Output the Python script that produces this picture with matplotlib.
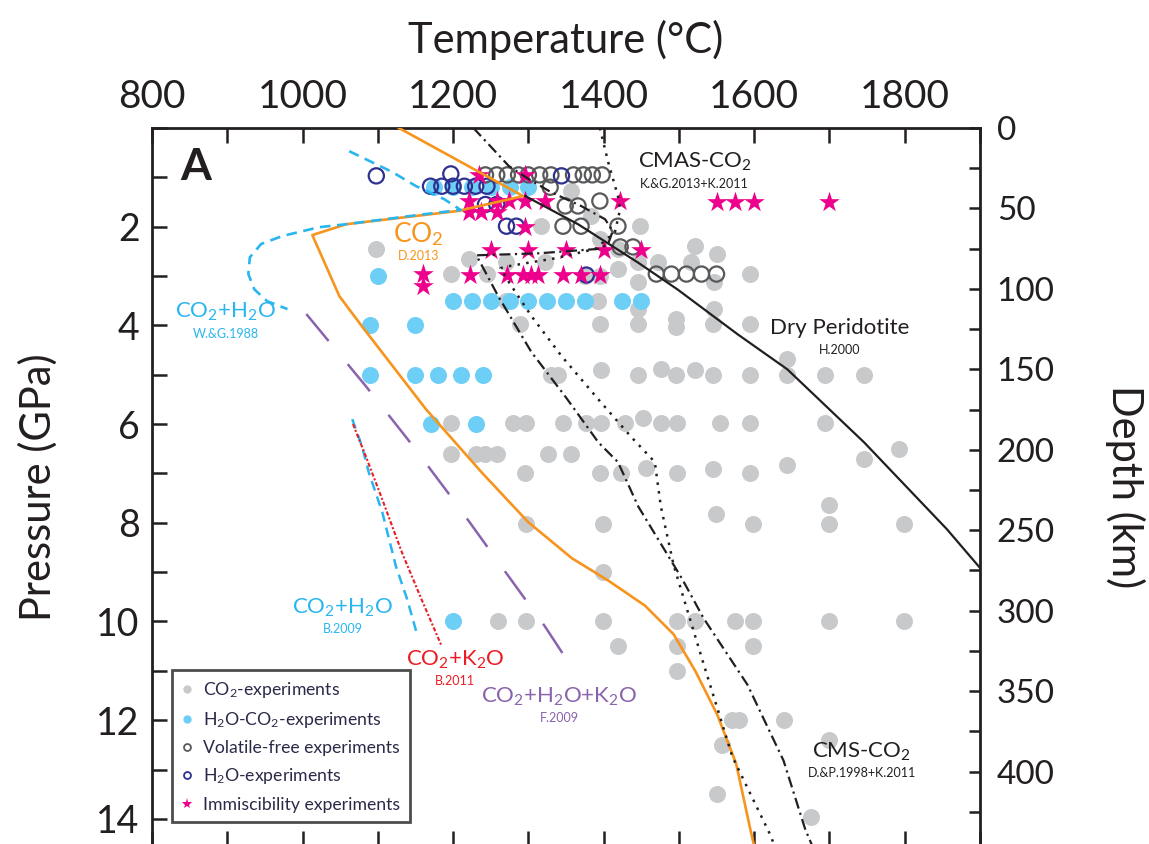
import matplotlib
matplotlib.use('Agg')
import matplotlib.pyplot as plt
from matplotlib.lines import Line2D
from matplotlib.ticker import MultipleLocator, FixedLocator

plt.rcParams['font.family'] = ['Lato', 'DejaVu Sans']
plt.rcParams['mathtext.fontset'] = 'custom'
plt.rcParams['mathtext.rm'] = 'Lato'
plt.rcParams['mathtext.it'] = 'Lato:italic'
plt.rcParams['mathtext.bf'] = 'Lato:bold'

KM_PER_GPA = 30.67
P_MAX = 14.55

# ---- experiments (temperature degC, pressure GPa) ----
co2_T = [1098, 1357, 1383, 1317, 1448, 1419, 1395, 1521, 1551,
         1221, 1270, 1322, 1445, 1472, 1516,
         1197, 1245, 1375, 1395, 1419, 1445, 1547, 1595,
         1270, 1393, 1445, 1547,
         1289, 1395, 1445, 1496, 1496, 1545, 1595,
         1644,
         1330, 1340, 1397, 1445, 1476, 1496, 1522, 1545, 1595, 1644, 1694, 1746,
         1197, 1280, 1297, 1346, 1377, 1397, 1428, 1452, 1476, 1498, 1555, 1595, 1694,
         1197, 1230, 1243, 1258, 1326, 1356,
         1296, 1395, 1423, 1456, 1498, 1545, 1595, 1644, 1746, 1793,
         1297, 1399, 1549, 1599, 1699, 1699, 1799,
         1399,
         1260, 1297, 1399, 1498, 1522, 1574, 1599, 1699, 1799,
         1419, 1498, 1599,
         1498,
         1571, 1580, 1639,
         1699, 1557, 1550, 1676]
co2_P = [2.45, 1.28, 1.79, 1.99, 1.99, 2.45, 2.25, 2.39, 2.56,
         2.66, 2.72, 2.72, 2.72, 2.72, 2.72,
         2.96, 2.96, 3.0, 3.0, 2.86, 3.12, 3.12, 2.96,
         3.5, 3.5, 3.67, 3.67,
         3.98, 3.98, 3.98, 3.88, 4.04, 3.98, 3.98,
         4.69,
         5.0, 5.0, 4.9, 5.0, 4.88, 5.0, 4.9, 5.0, 5.0, 5.0, 5.0, 5.0,
         5.97, 5.97, 5.97, 5.97, 5.97, 5.97, 5.97, 5.87, 5.97, 5.97, 5.97, 5.97, 5.97,
         6.6, 6.6, 6.6, 6.6, 6.6, 6.6,
         7.0, 7.0, 7.0, 6.88, 7.0, 6.92, 7.0, 6.82, 6.71, 6.51,
         8.03, 8.03, 7.83, 8.03, 7.63, 8.03, 8.03,
         9.0,
         10.0, 10.0, 10.0, 10.0, 10.0, 10.0, 10.0, 10.0, 10.0,
         10.5, 10.5, 10.5,
         11.0,
         12.0, 12.0, 12.0,
         12.4, 12.5, 13.5, 13.97]

h2o_co2_T = [1175, 1200, 1225, 1250, 1275, 1300,
             1100,
             1200, 1225, 1250, 1275, 1300, 1325, 1350, 1375, 1425, 1450,
             1090, 1150,
             1090, 1150, 1180, 1210, 1240,
             1170, 1230,
             1200]
h2o_co2_P = [1.2, 1.2, 1.2, 1.2, 1.2, 1.2,
             3.0,
             3.5, 3.5, 3.5, 3.5, 3.5, 3.5, 3.5, 3.5, 3.5, 3.5,
             4.0, 4.0,
             5.0, 5.0, 5.0, 5.0, 5.0,
             6.0, 6.0,
             10.0]

volfree_T = [1243, 1258, 1272, 1287, 1300, 1315, 1330, 1360, 1373, 1385, 1398,
             1329, 1349, 1366, 1395, 1346, 1370, 1419, 1422, 1439,
             1470, 1490, 1510, 1530, 1550]
volfree_P = [0.95, 0.95, 0.95, 0.95, 0.95, 0.95, 0.95, 0.95, 0.95, 0.95, 0.95,
             1.2, 1.58, 1.58, 1.48, 1.99, 1.99, 1.99, 2.41, 2.41,
             2.96, 2.96, 2.96, 2.96, 2.96]

h2o_T = [1098, 1197, 1344, 1170, 1185, 1200, 1215, 1230, 1245, 1243, 1258, 1271, 1284, 1377]
h2o_P = [0.97, 0.93, 0.97, 1.18, 1.18, 1.18, 1.18, 1.18, 1.18, 1.55, 1.55, 1.99, 1.99, 2.98]

immisc_T = [1234, 1296,
            1221, 1258, 1274, 1296, 1322, 1422,
            1221, 1237, 1258,
            1296,
            1250, 1300, 1350, 1400, 1450,
            1223, 1271, 1293, 1303, 1313, 1346, 1370, 1395,
            1160, 1160,
            1550, 1575, 1600, 1700]
immisc_P = [0.96, 0.96,
            1.48, 1.48, 1.48, 1.48, 1.48, 1.48,
            1.7, 1.7, 1.7,
            2.0,
            2.47, 2.47, 2.47, 2.47, 2.47,
            2.98, 2.98, 2.98, 2.98, 2.98, 2.98, 2.98, 2.98,
            2.95, 3.2,
            1.5, 1.5, 1.5, 1.5]

# ---- solidus curves ----
co2_D2013_T = [1128, 1293, 1207, 1058, 1013, 1049, 1079, 1164, 1238, 1300, 1358,
               1406, 1455, 1493, 1522, 1551, 1576, 1595, 1600]
co2_D2013_P = [0.0, 1.38, 1.68, 1.95, 2.17, 3.41, 4.02, 5.70, 6.98, 7.99, 8.72,
               9.17, 9.68, 10.26, 11.01, 11.89, 12.88, 14.22, 14.55]

wg1988_T = [1062, 1119, 1151, 1188, 1210, 1155, 1058, 1022, 973, 945, 930, 928, 936, 953, 980]
wg1988_P = [0.47, 0.89, 1.18, 1.44, 1.66, 1.76, 1.95, 2.01, 2.19, 2.35, 2.62, 2.96, 3.27, 3.51, 3.67]

b2009_T = [1066, 1079, 1088, 1106, 1124, 1139, 1151]
b2009_P = [5.90, 6.45, 6.98, 7.79, 8.88, 9.55, 10.2]

b2011_T = [1067, 1084, 1106, 1132, 1158, 1184]
b2011_P = [6.0, 6.65, 7.53, 8.6, 9.55, 10.47]

f2009_T = [1005, 1084, 1145, 1205, 1264, 1322, 1362]
f2009_P = [3.77, 5.23, 6.41, 7.63, 8.88, 10.1, 11.03]

peridotite_T = [1296, 1366, 1445, 1498, 1578, 1644, 1746, 1856, 1902]
peridotite_P = [1.38, 1.95, 2.72, 3.27, 4.18, 4.89, 6.37, 8.13, 8.95]

cmas_T = [1227, 1274, 1300, 1330, 1370, 1402, 1412, 1406, 1393, 1313, 1231,
          1260, 1304, 1349, 1393, 1419, 1446, 1504, 1533, 1591, 1639, 1668, 1677]
cmas_P = [0.0, 0.77, 1.03, 1.30, 1.58, 1.85, 2.09, 2.35, 2.45, 2.54, 2.58,
          3.41, 4.54, 5.44, 6.37, 6.77, 7.67, 9.13, 9.94, 11.28, 12.82, 14.22, 14.54]

cms_T = [1395, 1406, 1419, 1422, 1415, 1389, 1336, 1304, 1274, 1263, 1274, 1304,
         1344, 1393, 1436, 1468, 1476, 1493, 1533, 1571, 1620, 1627]
cms_P = [0.0, 0.69, 1.38, 1.64, 2.11, 2.45, 2.64, 2.72, 2.80, 2.84, 3.12, 3.81,
         4.62, 5.50, 6.25, 6.77, 7.67, 8.86, 10.87, 12.74, 14.28, 14.54]

GRAY = '#c8c9cb'
CYAN = '#6dcff6'
DKGRAY = '#58595b'
NAVY = '#2e3192'
MAGENTA = '#ec008c'
ORANGE = '#f7941d'
LBLUE = '#29b6ef'
RED = '#ed1c24'
PURPLE = '#8a63ad'
INK = '#231f20'

fig = plt.figure(figsize=(11.49, 8.44), dpi=100)
ax = fig.add_axes([152 / 1149, -2 / 844, 828 / 1149, 718 / 844])

ax.scatter(co2_T, co2_P, s=150, color=GRAY, lw=0, zorder=1)
ax.scatter(h2o_co2_T, h2o_co2_P, s=150, color=CYAN, lw=0, zorder=2)
ax.scatter(volfree_T, volfree_P, s=120, facecolor='none', edgecolor=DKGRAY, lw=1.6, zorder=3)
ax.scatter(h2o_T, h2o_P, s=120, facecolor='none', edgecolor=NAVY, lw=1.6, zorder=3)
ax.scatter(immisc_T, immisc_P, s=240, marker='*', color=MAGENTA, lw=0, zorder=4)

ax.plot(co2_D2013_T, co2_D2013_P, color=ORANGE, lw=1.9, zorder=5)
ax.plot(wg1988_T, wg1988_P, color=LBLUE, lw=1.9, ls=(0, (4, 2.5)), zorder=6)
ax.plot(b2009_T, b2009_P, color=LBLUE, lw=1.8, ls=(0, (4, 2.5)), zorder=5)
ax.plot(b2011_T, b2011_P, color=RED, lw=1.5, ls=(0, (2, 1, 1, 1)), zorder=5)
ax.plot(f2009_T, f2009_P, color=PURPLE, lw=1.8, ls=(0, (14, 12)), zorder=5)
ax.plot(peridotite_T, peridotite_P, color=INK, lw=1.6, zorder=5)
ax.plot(cmas_T, cmas_P, color=INK, lw=1.6, ls=(0, (5, 2, 1, 2)), zorder=5)
ax.plot(cms_T, cms_P, color=INK, lw=1.8, ls=(0, (1, 2.5)), zorder=5)

ax.set_xlim(800, 1900)
ax.set_ylim(P_MAX, 0)

ax.xaxis.tick_top()
ax.xaxis.set_label_position('top')
ax.xaxis.set_major_locator(MultipleLocator(200))
ax.xaxis.set_minor_locator(MultipleLocator(100))
ax.yaxis.set_major_locator(FixedLocator([2, 4, 6, 8, 10, 12, 14]))
ax.yaxis.set_minor_locator(MultipleLocator(1))
ax.tick_params(axis='both', which='both', direction='in', length=11, width=1.8,
               top=True, bottom=True, left=True, right=False, colors=INK)
ax.tick_params(axis='x', which='major', labelsize=28, pad=9)
ax.tick_params(axis='y', which='major', labelsize=27, pad=9)
for sp in ax.spines.values():
    sp.set_linewidth(2)
    sp.set_color(INK)

ax.set_xlabel('Temperature (°C)', fontsize=30, labelpad=19, color=INK)
ax.set_ylabel('Pressure (GPa)', fontsize=30, labelpad=28, color=INK)

ax2 = ax.twinx()
ax2.set_ylim(P_MAX * KM_PER_GPA, 0)
ax2.yaxis.set_major_locator(MultipleLocator(50))
ax2.yaxis.set_minor_locator(MultipleLocator(25))
ax2.tick_params(axis='y', which='both', direction='in', length=8, width=1.8, colors=INK)
ax2.tick_params(axis='y', which='major', labelsize=24, pad=12)
for sp in ax2.spines.values():
    sp.set_visible(False)
ax2.set_ylabel('Depth (km)', fontsize=30, rotation=270, labelpad=65, color=INK)

# ---- annotations ----
ax.text(858, 0.79, 'A', fontsize=32, fontweight='bold', ha='center', va='center', color=INK)

def label(x, y, main, sub, color, size=16, subsize=9):
    ax.text(x, y, main, fontsize=size, ha='center', va='center', color=color, zorder=7)
    ax.text(x, y + 0.44, sub, fontsize=subsize, ha='center', va='center', color=color, zorder=7)

label(1521, 0.69, r'CMAS-CO$_2$', 'K.&G.2013+K.2011', INK)
label(1154, 2.15, r'CO$_2$', 'D.2013', ORANGE, size=19)
label(898, 3.73, r'CO$_2$+H$_2$O', 'W.&G.1988', LBLUE)
label(1713, 4.06, 'Dry Peridotite', 'H.2000', INK)
label(1053, 9.72, r'CO$_2$+H$_2$O', 'B.2009', LBLUE)
label(1203, 10.77, r'CO$_2$+K$_2$O', 'B.2011', RED)
label(1341, 11.52, r'CO$_2$+H$_2$O+K$_2$O', 'F.2009', PURPLE)
label(1743, 12.64, r'CMS-CO$_2$', 'D.&P.1998+K.2011', INK)

handles = [
    Line2D([], [], ls='none', marker='o', ms=6, color=GRAY, mew=0),
    Line2D([], [], ls='none', marker='o', ms=6, color=CYAN, mew=0),
    Line2D([], [], ls='none', marker='o', ms=5, mfc='none', mec=DKGRAY, mew=1.3),
    Line2D([], [], ls='none', marker='o', ms=5, mfc='none', mec=NAVY, mew=1.3),
    Line2D([], [], ls='none', marker='*', ms=8, color=MAGENTA, mew=0),
]
names = [r'CO$_2$-experiments', r'H$_2$O-CO$_2$-experiments', 'Volatile-free experiments',
         'H$_2$O-experiments', 'Immiscibility experiments']
leg = ax.legend(handles, names, loc='upper left', bbox_to_anchor=(0.024, 0.245),
                fontsize=12.7, frameon=True, fancybox=False, handlelength=0.6,
                handletextpad=0.6, labelspacing=0.58, borderpad=0.55, borderaxespad=0)
leg.get_frame().set_edgecolor(INK)
leg.get_frame().set_linewidth(2)
leg.set_zorder(10)
for t in leg.get_texts():
    t.set_color('#2a2a48')

fig.savefig('out.png', dpi=100)
